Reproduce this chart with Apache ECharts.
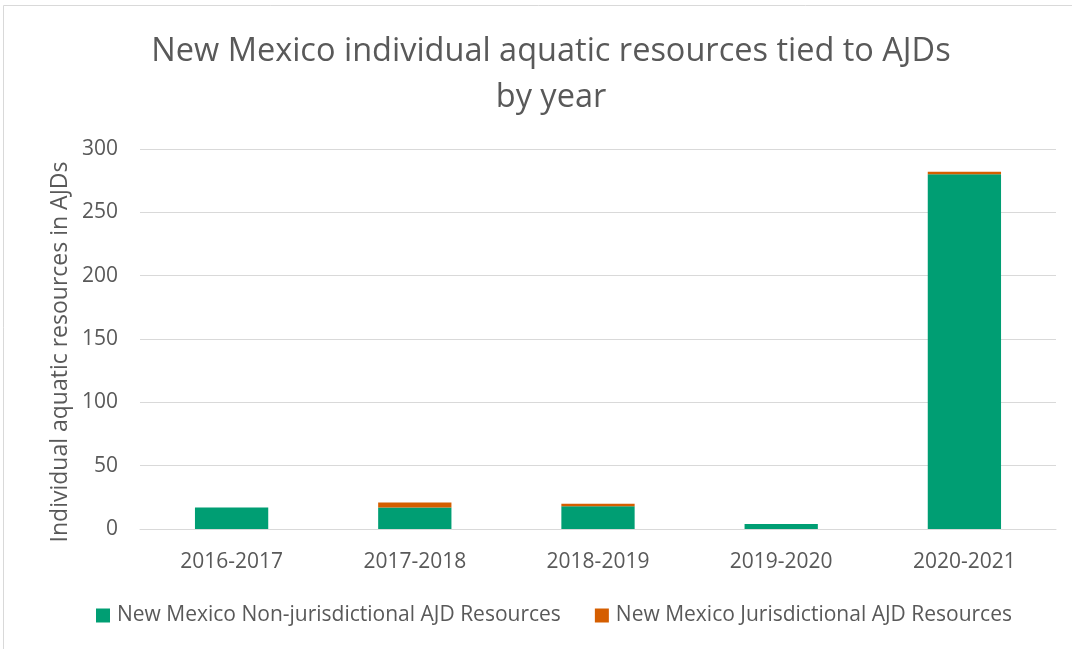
<!DOCTYPE html>
<html><head><meta charset="utf-8">
<script src="https://cdn.jsdelivr.net/npm/echarts@6/dist/echarts.min.js"></script>
<style>html,body{margin:0;padding:0;background:#fff}#c{width:1072px;height:649px}</style>
</head><body><div id="c"></div>
<script>
const categories = ['2016-2017','2017-2018','2018-2019','2019-2020','2020-2021'];
const nonJurisdictional = [17, 17, 18, 4, 280];
const jurisdictional = [0, 4, 2, 0, 2];
const yTicks = [0, 50, 100, 150, 200, 250, 300];
const seriesNames = ['New Mexico Non-jurisdictional AJD Resources','New Mexico Jurisdictional AJD Resources'];
const yAxisTitle = 'Individual aquatic resources in AJDs';
const FONT = 'Open Sans';
const chart = echarts.init(document.getElementById('c'));
chart.setOption({
  animation: false,
  textStyle: {fontFamily: FONT},
  graphic: [
    {type:'rect', shape:{x:3.5,y:5.5,width:1080,height:660}, style:{fill:'none',stroke:'#d9d9d9',lineWidth:1}, silent:true},
    {type:'text', x:60, y:352, rotation:Math.PI/2, style:{text:yAxisTitle, fontFamily:FONT, fontSize:23, fill:'#595959', align:'center', verticalAlign:'middle'}, silent:true}
  ],
  title: {text: 'New Mexico individual aquatic resources tied to AJDs\nby year', left: 546, textAlign:'center', top: 24,
    textStyle:{fontFamily:FONT, fontSize:32.5, fontWeight:'normal', color:'#595959', lineHeight:46}},
  legend: {top: 600, left: 91, itemWidth:14, itemHeight:14, itemGap:34, icon:'rect',
    textStyle:{fontFamily:FONT, fontSize:21, color:'#595959', padding:[0,0,0,2]}, data: seriesNames},
  grid: {left:140, right:16, top:149, bottom:120, containLabel:false},
  xAxis: {type:'category', data: categories, axisTick:{show:false},
    axisLine:{lineStyle:{color:'#d9d9d9', width:1}},
    axisLabel:{fontFamily:FONT, fontSize:21, color:'#595959', margin:23}},
  yAxis: {type:'value', min:yTicks[0], max:yTicks[yTicks.length-1], interval:50,
    axisLine:{show:false}, axisTick:{show:false},
    splitLine:{lineStyle:{color:'#d9d9d9', width:1}},
    axisLabel:{fontFamily:FONT, fontSize:21, color:'#595959', margin:22}},
  series: [
    {name:seriesNames[0], type:'bar', stack:'a', data:nonJurisdictional, barWidth:'40%', itemStyle:{color:'#009E73'}},
    {name:seriesNames[1], type:'bar', stack:'a', data:jurisdictional, barWidth:'40%', itemStyle:{color:'#D55E00'}}
  ]
});
</script></body></html>
